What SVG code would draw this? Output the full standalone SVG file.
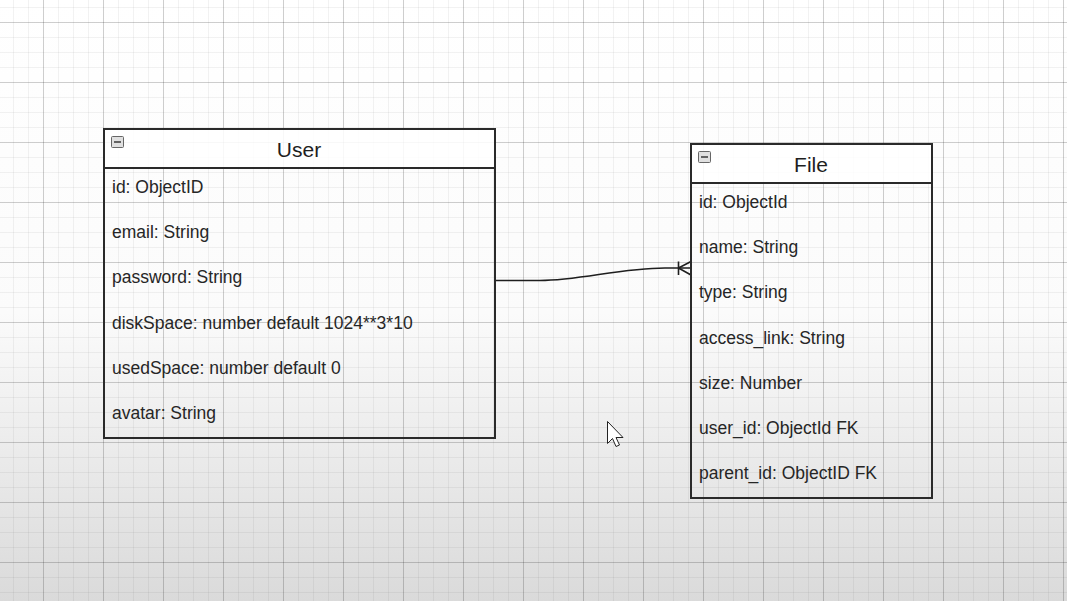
<svg xmlns="http://www.w3.org/2000/svg" width="1067" height="601" viewBox="0 0 1067 601">
  <defs>
    <linearGradient id="bg" x1="0" y1="0" x2="0" y2="1">
      <stop offset="0" stop-color="#ffffff"/>
      <stop offset="0.52" stop-color="#fbfbfb"/>
      <stop offset="1" stop-color="#dadada"/>
    </linearGradient>
    <pattern id="minor" width="15" height="15" patternUnits="userSpaceOnUse" x="13" y="7">
      <path d="M0 0.5H15M0.5 0V15" fill="none" stroke="#000" stroke-opacity="0.05" stroke-width="1"/>
    </pattern>
    <pattern id="major" width="60" height="60" patternUnits="userSpaceOnUse" x="43" y="22">
      <path d="M0 0.5H60M0.5 0V60" fill="none" stroke="#000" stroke-opacity="0.15" stroke-width="1"/>
    </pattern>
  </defs>
  <style>
    .box { fill: none; stroke: #2a2a2a; stroke-width: 2; }
    .head { fill: #ffffff; fill-opacity: 0.85; }
    .title { font-family: "Liberation Sans", Arial, sans-serif; font-size: 21px; fill: #1e1e1e; text-anchor: middle; }
    .row { font-family: "Liberation Sans", Arial, sans-serif; font-size: 17.5px; fill: #262626; }
    .tog { fill: #e0e0e0; stroke: #666; stroke-width: 1; }
    .tog-bar { stroke: #444; stroke-width: 1.6; }
    .edge { fill: none; stroke: #1e1e1e; stroke-width: 1.6; }
  </style>

  <!-- canvas -->
  <rect width="1067" height="601" fill="url(#bg)"/>
  <rect width="1067" height="601" fill="url(#minor)"/>
  <rect width="1067" height="601" fill="url(#major)"/>

  <!-- relation: User 1 to many File -->
  <g id="connectors">
    <path class="edge" d="M495 280.5H540C580 280.5 620 268 665 268H691"/>
    <path class="edge" d="M678.5 261.5V275M678.5 268L691 261.5M678.5 268L691 275"/>
  </g>

  <g id="user">
    <rect class="head" x="104" y="129" width="391" height="39"/>
    <rect class="box" x="104" y="129" width="391" height="309"/>
    <line class="box" x1="104" y1="168" x2="495" y2="168"/>
    <rect class="tog" x="111.5" y="136.5" width="12" height="11" rx="1"/>
    <line class="tog-bar" x1="114" y1="142" x2="121" y2="142"/>
    <text class="title" x="299" y="157">User</text>
    <text class="row" x="112" y="193">id: ObjectID</text>
    <text class="row" x="112" y="238">email: String</text>
    <text class="row" x="112" y="283">password: String</text>
    <text class="row" x="112" y="329">diskSpace: number default 1024**3*10</text>
    <text class="row" x="112" y="374">usedSpace: number default 0</text>
    <text class="row" x="112" y="419">avatar: String</text>
  </g>

  <g id="file">
    <rect class="head" x="691" y="144" width="241" height="39"/>
    <rect class="box" x="691" y="144" width="241" height="354"/>
    <line class="box" x1="691" y1="183" x2="932" y2="183"/>
    <rect class="tog" x="698.5" y="151.5" width="12" height="11" rx="1"/>
    <line class="tog-bar" x1="701" y1="157" x2="708" y2="157"/>
    <text class="title" x="811" y="172">File</text>
    <text class="row" x="699" y="208">id: ObjectId</text>
    <text class="row" x="699" y="253">name: String</text>
    <text class="row" x="699" y="298">type: String</text>
    <text class="row" x="699" y="344">access_link: String</text>
    <text class="row" x="699" y="389">size: Number</text>
    <text class="row" x="699" y="434">user_id: ObjectId FK</text>
    <text class="row" x="699" y="479">parent_id: ObjectID FK</text>
  </g>

  <!-- pointer -->
  <path d="M607.5 421.5V443.5L612.5 438.5L616 446.5L619.5 445L616 437.5H623Z" fill="#fff" stroke="#222" stroke-width="1" stroke-linejoin="round"/>
</svg>
